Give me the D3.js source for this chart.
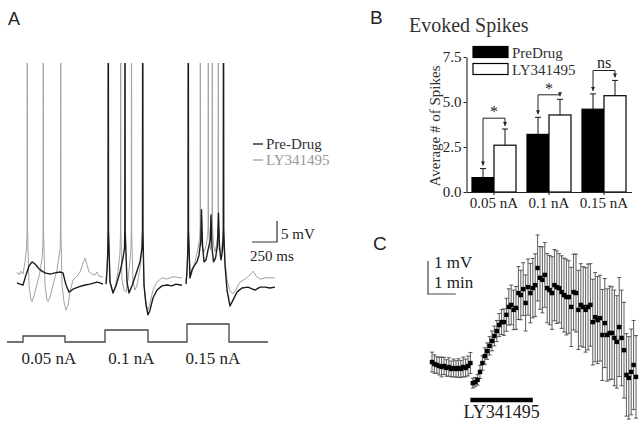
<!DOCTYPE html>
<html>
<head>
<meta charset="utf-8">
<script src="https://cdn.jsdelivr.net/npm/d3@7/dist/d3.min.js"></script>
<style>
  body { margin: 0; background: #fff; }
  svg text { font-family: "Liberation Serif", "Times New Roman", serif; fill: #222; }
  svg text.panel { font-family: "Liberation Sans", Arial, sans-serif; }
</style>
</head>
<body>
<div id="fig"></div>
<script>
// ---------- Panel A: example sweeps, [time ms, Vm mV] ----------
const preDrugSweeps = [
  [[100,-64.5],[130,-64.8],[160,-65.0],[190,-62.6],[220,-60.5],[250,-59.5],[280,-60.0],[330,-61.4],[380,-62.1],[430,-62.4],[480,-62.1],[530,-61.9],[560,-62.1],[590,-65.0],[620,-66.7],[660,-66.0],[710,-65.5],[780,-65.0],[830,-64.8],[900,-64.3],[930,-64.5],[960,-64.8]],
  [[990,-64.8],[1000,-61.9],[1008,-56.7],[1011,-52],[1013,20],[1015,-52],[1030,-64.3],[1060,-66.9],[1090,-65.2],[1130,-61.9],[1160,-58.6],[1175,-56.2],[1178,-52],[1180,20],[1182,-52],[1200,-64.3],[1220,-66.9],[1250,-65.2],[1290,-62.4],[1330,-59.5],[1350,-56.2],[1355,-52],[1357,20],[1359,-52],[1370,-65.0],[1390,-69.8],[1410,-72.1],[1430,-71.0],[1460,-68.1],[1500,-66.2],[1550,-65.2],[1600,-65.0],[1650,-65.2],[1690,-64.8],[1730,-65.0],[1750,-65.0]],
  [[1790,-64.8],[1800,-61.9],[1808,-56.7],[1811,-52],[1813,20],[1815,-52],[1830,-63.3],[1850,-61.4],[1870,-60.5],[1900,-59.5],[1920,-57.9],[1938,-54.3],[1945,-47.1],[1955,-55.5],[1970,-59.5],[1990,-59.0],[2010,-56.7],[2033,-54.3],[2040,-48.3],[2050,-56.2],[2065,-59.5],[2085,-58.6],[2105,-55.5],[2115,-47.9],[2125,-56.2],[2140,-59.0],[2155,-56.7],[2160,-54.3],[2163,-52],[2165,20],[2167,-52],[2180,-60.2],[2200,-66.2],[2230,-70.0],[2260,-68.6],[2300,-66.7],[2350,-65.7],[2410,-65.5],[2480,-66.2],[2530,-65.5],[2580,-65.5],[2630,-65.7],[2680,-65.5]]
];
const lySweeps = [
  [[100,-61.9],[120,-62.6],[140,-61.7],[160,-62.4],[180,-59.5],[195,-56.2],[201,-52],[203,20],[205,-52],[220,-65.0],[240,-68.6],[250,-69.0],[270,-67.6],[300,-64.8],[330,-61.9],[350,-58.6],[358,-56.2],[361,-52],[363,20],[365,-52],[380,-65.0],[400,-68.6],[410,-69.0],[430,-67.9],[460,-65.0],[500,-61.4],[520,-58.1],[532,-56.2],[535,-52],[537,20],[539,-52],[550,-65.0],[570,-69.0],[590,-71.0],[610,-69.8],[630,-66.7],[660,-63.8],[700,-62.9],[730,-61.9],[760,-59.8],[780,-58.6],[800,-60.2],[820,-61.9],[850,-62.4],[880,-62.6],[900,-61.9],[920,-62.9],[960,-63.1]],
  [[990,-63.8],[1000,-61.4],[1008,-56.7],[1011,-52],[1013,20],[1015,-52],[1030,-64.3],[1060,-66.7],[1080,-65.7],[1110,-61.9],[1130,-57.1],[1135,-52],[1137,20],[1139,-52],[1150,-63.8],[1170,-66.2],[1190,-66.7],[1210,-63.8],[1238,-57.1],[1243,-52],[1245,20],[1247,-52],[1260,-64.3],[1280,-66.2],[1300,-65.0],[1330,-61.0],[1350,-56.7],[1355,-52],[1357,20],[1359,-52],[1370,-65.0],[1390,-69.3],[1410,-71.0],[1430,-69.3],[1460,-66.2],[1500,-64.3],[1550,-63.3],[1600,-63.6],[1650,-63.1],[1690,-63.1],[1730,-63.3],[1750,-63.3]],
  [[1790,-64.0],[1800,-61.9],[1808,-56.7],[1811,-52],[1813,20],[1815,-52],[1830,-63.3],[1855,-61.7],[1880,-59.5],[1910,-56.2],[1927,-53.8],[1931,-51],[1933,20],[1935,-51],[1948,-55.5],[1970,-57.1],[1990,-55.7],[2007,-53.3],[2011,-51],[2013,20],[2015,-51],[2025,-55.5],[2035,-56.7],[2046,-53.8],[2051,-51],[2053,20],[2055,-51],[2066,-55.7],[2080,-57.1],[2095,-55.5],[2106,-53.3],[2111,-51],[2113,20],[2115,-51],[2125,-55.7],[2140,-57.1],[2158,-53.8],[2163,-51],[2165,20],[2167,-51],[2180,-59.5],[2200,-63.8],[2230,-66.4],[2260,-67.1],[2290,-66.0],[2330,-64.3],[2380,-63.6],[2430,-62.6],[2460,-61.7],[2490,-62.9],[2530,-63.6],[2580,-63.3],[2630,-63.3],[2680,-63.3]]
];
const stimAmps = [0.05, 0.1, 0.15];
const stimOn = [160, 980, 1800];
const stimOff = [580, 1410, 2220];
const stimLabels = ["0.05 nA", "0.1 nA", "0.15 nA"];
const stimEnd = 2610;

// ---------- Panel B: evoked spikes ----------
const currents = ["0.05 nA", "0.1 nA", "0.15 nA"];
const conditions = ["PreDrug", "LY341495"];
const preDrugMean = [0.8, 3.2, 4.6];
const preDrugSem = [0.5, 0.95, 0.85];
const lyMean = [2.6, 4.28, 5.35];
const lySem = [0.9, 0.87, 0.85];
const sigLabels = ["*", "*", "ns"];
const sigLevel = [4.1, 5.4, 6.75];
const yTicksB = [0, 2.5, 5, 7.5];

// ---------- Panel C: time course, delta Vm (mV) every 5 s ----------
const sampleStep = 5;
const deltaVm = [0.09,0.03,0.00,-0.03,-0.06,-0.03,-0.09,-0.06,-0.12,-0.09,-0.12,-0.09,-0.12,-0.06,-0.09,-0.03,0.06,
  -0.55,-0.52,-0.45,
  -0.21,0.06,0.27,0.42,0.58,0.73,0.88,1.03,1.21,1.30,1.30,
  1.52,1.76,1.82,1.67,1.73,2.18,2.12,2.30,1.88,2.36,2.18,2.33,2.42,
  2.94,2.64,2.58,2.73,2.33,2.27,2.18,2.42,2.36,2.33,2.21,2.12,2.06,2.06,1.76,2.21,2.18,
  1.67,1.82,1.76,1.67,1.76,1.82,1.30,1.45,1.36,1.42,0.91,1.27,0.91,0.97,0.97,
  0.82,0.70,1.15,0.82,0.45,-0.30,-0.39,-0.21,0.00,-0.36];
const deltaSem = [0.3,0.28,0.25,0.27,0.3,0.26,0.25,0.28,0.24,0.27,0.25,0.28,0.26,0.3,0.27,0.3,0.32,
  0.15,0.14,0.16,
  0.2,0.22,0.25,0.25,0.28,0.3,0.3,0.32,0.35,0.38,0.4,
  0.5,0.55,0.6,0.6,0.65,0.8,0.75,0.8,0.85,0.85,0.9,0.9,0.95,
  1.0,0.95,1.0,0.98,1.05,1.05,1.1,1.08,1.1,1.05,1.1,1.12,1.15,1.1,1.2,1.15,1.18,
  1.2,1.25,1.22,1.28,1.3,1.25,1.3,1.35,1.32,1.3,1.38,1.35,1.4,1.42,1.4,
  1.45,1.4,1.5,1.45,1.45,1.25,1.25,1.3,1.35,1.25];
const drugWindow = [80, 210];

const svg = d3.select("#fig").append("svg")
  .attr("width", 644).attr("height", 427)
  .style("background", "#fff");

// ================= Panel A =================
const xA = d3.scaleLinear().domain([0, 2680]).range([7, 275]);
const yA = d3.scaleLinear().domain([-80, 20]).range([348, -72]);
const yStim = d3.scaleLinear().domain([0, 0.15]).range([342, 324]);

svg.append("text").attr("class", "panel").attr("x", 8).attr("y", 25)
  .style("font-size", "18px").text("A");

svg.append("clipPath").attr("id", "clipA")
  .append("rect").attr("x", 0).attr("y", 63).attr("width", 300).attr("height", 300);

const traceLine = d3.line().x(d => xA(d[0])).y(d => yA(d[1]));
const traces = svg.append("g").attr("clip-path", "url(#clipA)");

traces.selectAll("path.ly").data(lySweeps).join("path")
  .attr("class", "ly").attr("d", traceLine)
  .attr("fill", "none").attr("stroke", "#a2a2a2")
  .attr("stroke-width", 1).attr("stroke-linejoin", "round");

traces.selectAll("path.pre").data(preDrugSweeps).join("path")
  .attr("class", "pre").attr("d", traceLine)
  .attr("fill", "none").attr("stroke", "#1c1c1c")
  .attr("stroke-width", 1.4).attr("stroke-linejoin", "round");

// current step protocol
const stimPts = [[0, 0]];
stimAmps.forEach((a, i) => {
  stimPts.push([stimOn[i], 0], [stimOn[i], a], [stimOff[i], a], [stimOff[i], 0]);
});
stimPts.push([stimEnd, 0]);
svg.append("path")
  .attr("d", d3.line().x(d => xA(d[0])).y(d => yStim(d[1]))(stimPts))
  .attr("fill", "none").attr("stroke", "#444").attr("stroke-width", 1.3);

svg.selectAll("text.stim").data(stimLabels).join("text")
  .attr("class", "stim")
  .attr("x", (d, i) => xA((stimOn[i] + stimOff[i]) / 2) + 5)
  .attr("y", 364)
  .attr("text-anchor", "middle")
  .style("font-size", "17px")
  .text(d => d);

// legend
const legA = [["Pre-Drug", "#1c1c1c", "#333"], ["LY341495", "#a2a2a2", "#999"]];
legA.forEach((l, i) => {
  const y = 144 + i * 16;
  svg.append("line").attr("x1", 253).attr("x2", 263).attr("y1", y).attr("y2", y)
    .attr("stroke", l[1]).attr("stroke-width", 1.3);
  svg.append("text").attr("x", 266).attr("y", y + 5)
    .style("font-size", "15px").style("fill", l[2]).text(l[0]);
});

// scale bar: 5 mV, 250 ms
const sbX = 277, sbY = 242;
const sbH = yA(-65) - yA(-60);
const sbW = xA(250) - xA(0);
svg.append("path")
  .attr("d", `M${sbX - sbW},${sbY}H${sbX}V${sbY - sbH}`)
  .attr("fill", "none").attr("stroke", "#333").attr("stroke-width", 1.2);
svg.append("text").attr("x", 281).attr("y", 239).style("font-size", "15px").text("5 mV");
svg.append("text").attr("x", 250).attr("y", 261).style("font-size", "15px").text("250 ms");

// ================= Panel B =================
const xB = d3.scaleBand().domain(currents).range([466.5, 631.5])
  .paddingInner(0.2).paddingOuter(0.1);
const xSub = d3.scaleBand().domain(conditions).range([0, xB.bandwidth()]);
const yB = d3.scaleLinear().domain([0, 7.5]).range([192, 57]);

svg.append("text").attr("class", "panel").attr("x", 370).attr("y", 24)
  .style("font-size", "19px").text("B");
svg.append("text").attr("x", 409).attr("y", 32)
  .style("font-size", "20px").style("fill", "#333").text("Evoked Spikes");

const barRows = currents.map((c, i) => [
  { cur: c, cond: "PreDrug", mean: preDrugMean[i], sem: preDrugSem[i] },
  { cur: c, cond: "LY341495", mean: lyMean[i], sem: lySem[i] }
]).flat();

const gB = svg.append("g");
// error bars (upper only)
gB.selectAll("path.err").data(barRows).join("path")
  .attr("class", "err")
  .attr("d", d => {
    const cx = xB(d.cur) + xSub(d.cond) + xSub.bandwidth() / 2;
    const yt = yB(d.mean + d.sem);
    return `M${cx},${yB(d.mean)}V${yt}M${cx - 3},${yt}H${cx + 3}`;
  })
  .attr("fill", "none").attr("stroke", "#111").attr("stroke-width", 1);

gB.selectAll("rect.bar").data(barRows).join("rect")
  .attr("class", "bar")
  .attr("x", d => xB(d.cur) + xSub(d.cond))
  .attr("y", d => yB(d.mean))
  .attr("width", xSub.bandwidth())
  .attr("height", d => yB(0) - yB(d.mean))
  .attr("fill", d => d.cond === "PreDrug" ? "#000" : "#fff")
  .attr("stroke", "#000").attr("stroke-width", 1.2);

// significance brackets
currents.forEach((c, i) => {
  const xl = xB(c) + xSub("PreDrug") + xSub.bandwidth() / 2;
  const xr = xB(c) + xSub("LY341495") + xSub.bandwidth() / 2;
  const yt = yB(sigLevel[i]);
  const yl = yB(preDrugMean[i] + preDrugSem[i]) - 3;
  const yr = yB(lyMean[i] + lySem[i]) - 3;
  gB.append("path")
    .attr("d", `M${xl},${yl}V${yt}H${xr}V${yr}`)
    .attr("fill", "none").attr("stroke", "#222").attr("stroke-width", 1);
  [[xl, yl], [xr, yr]].forEach(p => {
    gB.append("path")
      .attr("d", `M${p[0] - 2},${p[1] - 4}L${p[0] + 2},${p[1] - 4}L${p[0]},${p[1]}Z`)
      .attr("fill", "#222");
  });
  gB.append("text")
    .attr("x", (xl + xr) / 2)
    .attr("y", sigLabels[i] === "*" ? yt - 1 : yt - 3)
    .attr("text-anchor", "middle")
    .attr("fill", "#222")
    .style("fill", "#222")
    .style("font-size", "16px")
    .text(sigLabels[i]);
});

// axes
const yAxisB = svg.append("g").attr("transform", "translate(466.5,0)")
  .call(d3.axisLeft(yB).tickValues(yTicksB).tickFormat(d3.format(".1f"))
    .tickSize(3).tickPadding(2).tickSizeOuter(0));
const xAxisB = svg.append("g").attr("transform", "translate(0,192)")
  .call(d3.axisBottom(xB).tickSize(3).tickPadding(2).tickSizeOuter(0));
[yAxisB, xAxisB].forEach(g => {
  g.attr("font-family", null).attr("font-size", null);
  g.selectAll("text").style("font-size", "15px").style("fill", "#222");
  g.selectAll("path, line").attr("stroke", "#222").attr("stroke-width", 1.1);
});

svg.append("text")
  .attr("transform", "translate(440,126) rotate(-90)")
  .attr("text-anchor", "middle")
  .style("font-size", "15px").style("fill", "#333")
  .text("Average # of Spikes");

// legend
conditions.forEach((c, i) => {
  const y = 46.5 + i * 17;
  svg.append("rect").attr("x", 473).attr("y", y).attr("width", 35).attr("height", 11)
    .attr("fill", i === 0 ? "#000" : "#fff").attr("stroke", "#000").attr("stroke-width", 1.2);
  svg.append("text").attr("x", 512).attr("y", y + 11)
    .style("font-size", "15px").style("fill", "#333").text(c);
});

// ================= Panel C =================
const xC = d3.scaleLinear().domain([0, 425]).range([432, 636]);
const yC = d3.scaleLinear().domain([-1, 3]).range([398, 266]);

svg.append("text").attr("class", "panel").attr("x", 373).attr("y", 250)
  .style("font-size", "19px").text("C");

const ptsC = deltaVm.map((v, i) => ({ t: i * sampleStep, v: v, s: deltaSem[i] }));
const gC = svg.append("g");
gC.selectAll("path.eb").data(ptsC).join("path")
  .attr("class", "eb")
  .attr("d", d => {
    const x = xC(d.t), y1 = yC(d.v + d.s), y0 = yC(d.v - d.s);
    return `M${x},${y0}V${y1}M${x - 2},${y1}H${x + 2}M${x - 2},${y0}H${x + 2}`;
  })
  .attr("fill", "none").attr("stroke", "#333").attr("stroke-width", 0.8);
gC.selectAll("rect.pt").data(ptsC).join("rect")
  .attr("class", "pt")
  .attr("x", d => xC(d.t) - 2.2).attr("y", d => yC(d.v) - 2.2)
  .attr("width", 4.4).attr("height", 4.4).attr("fill", "#000");

// drug application bar
svg.append("line")
  .attr("x1", xC(drugWindow[0])).attr("x2", xC(drugWindow[1]))
  .attr("y1", 400).attr("y2", 400)
  .attr("stroke", "#000").attr("stroke-width", 4.5);
svg.append("text")
  .attr("x", (xC(drugWindow[0]) + xC(drugWindow[1])) / 2).attr("y", 418)
  .attr("text-anchor", "middle").style("font-size", "18px").text("LY341495");

// scale bar: 1 mV, 1 min
const cbX = 428, cbY = 294;
const cbH = yC(0) - yC(1);
const cbW = xC(60) - xC(0);
svg.append("path")
  .attr("d", `M${cbX},${cbY - cbH}V${cbY}`)
  .attr("stroke", "#444").attr("stroke-width", 1.2);
svg.append("path")
  .attr("d", `M${cbX - 1},${cbY}H${cbX - 1 + cbW}`)
  .attr("stroke", "#666").attr("stroke-width", 1.2);
svg.append("text").attr("x", 434).attr("y", 268).style("font-size", "17px").text("1 mV");
svg.append("text").attr("x", 434).attr("y", 288).style("font-size", "17px").text("1 min");
</script>
</body>
</html>
